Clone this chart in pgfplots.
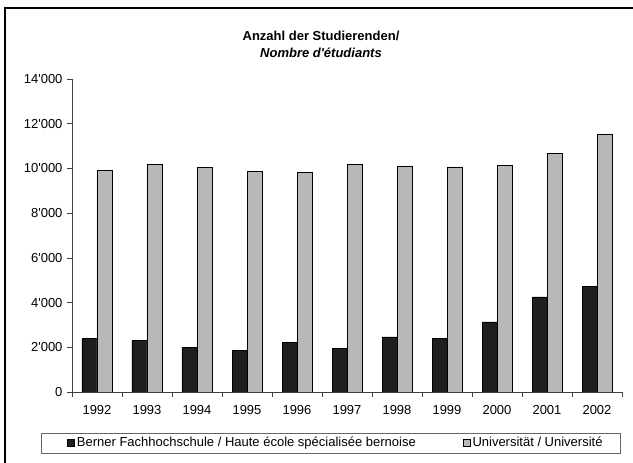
\documentclass[border=0pt]{standalone}
\usepackage{fontspec}
\setmainfont{Liberation Sans}
\usepackage{pgfplots}
\pgfplotsset{compat=1.18}
\newcommand{\q}{\textquotesingle}
\pgfplotstableread{
x fh uni
0 2390 9900
1 2290 10190
2 1990 10060
3 1860 9880
4 2215 9810
5 1930 10190
6 2465 10100
7 2410 10070
8 3135 10140
9 4250 10680
10 4740 11520
}\studdata
\begin{document}
\fontsize{13}{15}\selectfont
\begin{tikzpicture}
\path[use as bounding box] (0pt,0pt) rectangle (633pt,463pt);
\draw[line width=2pt] (5pt,0pt) -- (5pt,455pt) -- (633pt,455pt);
\node[font=\fontsize{13}{15}\selectfont\bfseries] at (321pt,427pt) {Anzahl der Studierenden/};
\node[font=\fontsize{13}{15}\selectfont\bfseries\itshape] at (321pt,410.5pt) {Nombre d\q étudiants};
\begin{axis}[
  at={(72pt,71pt)}, anchor=south west,
  scale only axis, width=550pt, height=313pt,
  font=\fontsize{13}{15}\selectfont,
  xmin=-0.5, xmax=10.5, ymin=0, ymax=14000,
  scaled y ticks=false,
  axis x line*=bottom, axis y line*=left,
  axis line style={black!75, line width=0.6pt},
  tick style={black!75, line width=0.6pt},
  xtick={0,...,10},
  xticklabels={1992,1993,1994,1995,1996,1997,1998,1999,2000,2001,2002},
  xticklabel style={yshift=-4pt},
  major x tick style={draw=none},
  minor xtick={-0.5,0.5,...,10.5},
  tick align=outside, major tick length=5pt, minor tick length=5pt,
  ytick={0,2000,...,14000},
  yticklabels={0,2\q 000,4\q 000,6\q 000,8\q 000,10\q 000,12\q 000,14\q 000},
  ybar=0pt, bar width=15pt,
  legend columns=2,
  legend cell align=left,
  legend style={at={(-0.05636,-0.1629)}, anchor=west, draw=black!60,
    inner xsep=16pt, inner ysep=2.5pt,
    /tikz/every even column/.append style={column sep=35pt}},
  legend image code/.code={\path (0pt,0pt); \draw[#1] (10pt,-3.8pt) rectangle (17pt,3.8pt);},
]
\addplot[draw=black, fill=black!88, line width=0.7pt] table[x=x, y=fh] {\studdata};
\addlegendentry{Berner Fachhochschule / Haute école spécialisée bernoise}
\addplot[draw=black, fill=black!28, line width=0.7pt] table[x=x, y=uni] {\studdata};
\addlegendentry{Universität / Université}
\end{axis}
\end{tikzpicture}
\end{document}
